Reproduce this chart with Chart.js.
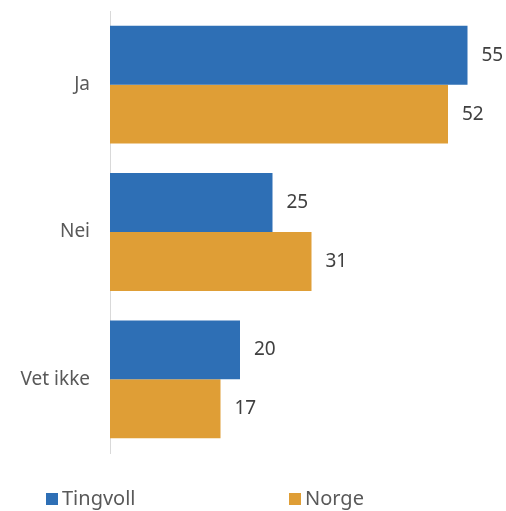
<!DOCTYPE html>
<html>
<head>
<meta charset="utf-8">
<script src="https://cdn.jsdelivr.net/npm/chart.js@4.4.1/dist/chart.umd.min.js"></script>
<style>
  html, body { margin: 0; padding: 0; background: #fff; }
  #wrap { width: 506px; height: 511px; }
</style>
</head>
<body>
<div id="wrap"><canvas id="svarChart" width="506" height="511"></canvas></div>
<script>
// Data
const kategorier = ['Ja', 'Nei', 'Vet ikke'];
const tingvoll = [55, 25, 20];
const norge = [52, 31, 17];
const serier = ['Tingvoll', 'Norge'];
const farger = ['#2E6FB5', '#DF9E36'];

const FONT = '"Noto Sans", "Liberation Sans", sans-serif';

// tall ved enden av stolpene + egen legend nederst
const etiketter = {
    id: 'etiketter',
    afterDatasetsDraw(chart) {
        const ctx = chart.ctx;
        ctx.save();
        ctx.font = '19px ' + FONT;
        ctx.fillStyle = '#404040';
        ctx.textBaseline = 'middle';
        ctx.textAlign = 'left';
        chart.data.datasets.forEach((ds, i) => {
            chart.getDatasetMeta(i).data.forEach((bar, j) => {
                ctx.fillText(ds.data[j], bar.x + 14, bar.y);
            });
        });
        // legend
        const lx = [46, 289];
        ctx.font = '20px ' + FONT;
        serier.forEach((navn, i) => {
            ctx.fillStyle = farger[i];
            ctx.fillRect(lx[i], 493, 12, 12);
            ctx.fillStyle = '#595959';
            ctx.fillText(navn, lx[i] + 16, 499);
        });
        ctx.restore();
    }
};

const ctx = document.getElementById('svarChart').getContext('2d');
new Chart(ctx, {
    type: 'bar',
    data: {
        labels: kategorier,
        datasets: [{
            label: serier[0],
            data: tingvoll,
            backgroundColor: farger[0],
            categoryPercentage: 0.8,
            barPercentage: 1.0
        }, {
            label: serier[1],
            data: norge,
            backgroundColor: farger[1],
            categoryPercentage: 0.8,
            barPercentage: 1.0
        }]
    },
    options: {
        indexAxis: 'y',
        responsive: false,
        animation: false,
        layout: {
            padding: { left: 0, right: 6, top: 11, bottom: 58 }
        },
        plugins: {
            legend: { display: false },
            tooltip: { enabled: false }
        },
        scales: {
            x: {
                display: false,
                min: 0,
                max: 60
            },
            y: {
                afterFit(scale) {
                    scale.width = 110;
                    scale.paddingTop = 0;
                    scale.paddingBottom = 0;
                },
                grid: { display: false, drawTicks: false },
                border: { display: true, color: '#d9d9d9', width: 1 },
                ticks: {
                    padding: 20,
                    color: '#595959',
                    font: { family: FONT, size: 19 }
                }
            }
        }
    },
    plugins: [etiketter]
});
</script>
</body>
</html>
